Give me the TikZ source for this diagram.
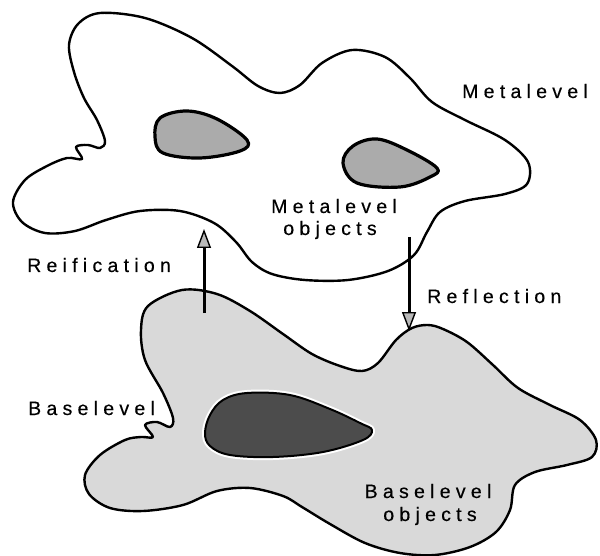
\documentclass[tikz,border=0pt]{standalone}
\usepackage{fontspec}
\setmainfont{Liberation Sans}
\newfontfamily\labfont[LetterSpace=27,FakeBold=0.4]{Liberation Sans}
\usetikzlibrary{arrows.meta}
\begin{document}
\begin{tikzpicture}[x=1pt,y=-1pt, line join=round,
  blob/.style={draw=black, line width=2.4pt},
  metaobj/.style={draw=black, line width=3.2pt, fill=gray!66},
  darkobj/.style={draw=black, line width=2pt, fill=black!70},
  lab/.style={font=\labfont\fontsize{19.5}{23}\selectfont, inner sep=0pt, text=black},
  arr/.style={line width=3pt, -{Triangle[length=19pt,width=14pt,fill=gray!55,line width=1.4pt]}}
]
\useasboundingbox (0,0) rectangle (600,556);
\fill[white] (0,0) rectangle (600,556);

% metalevel blob
\draw[blob, fill=white] plot[smooth cycle, tension=0.55] coordinates {
 (100,13) (145,18) (192,38) (232,66) (258,86) (280,93) (300,85) (322,63) (352,50)
 (385,57) (410,78) (432,102) (465,120) (505,140) (528,162) (527,184) (505,194)
 (465,201) (440,212) (427,232) (414,255) (388,271) (348,280) (305,280) (272,274)
 (252,262) (236,242) (214,223) (180,211) (140,211) (106,220) (75,231) (45,233)
 (22,222) (13,202) (25,180) (47,166) (67,158) (82,159) (76,147) (88,145) (100,148)
 (105,141) (97,120) (84,98) (74,72) (69,45) (78,24)};

% baselevel blob
\draw[blob, fill=gray!30] plot[smooth cycle, tension=0.55] coordinates {
 (182,290) (217,294) (250,311) (283,334) (312,354) (340,366) (362,371) (378,363)
 (396,340) (412,328) (428,325) (443,329) (467,342) (493,365) (518,388) (550,405)
 (580,420) (596,440) (592,457) (567,465) (535,472) (515,485) (510,510) (496,532)
 (470,547) (435,555) (400,553) (365,543) (330,524) (302,507) (283,496) (250,488)
 (217,491) (183,505) (143,511) (110,508) (89,494) (85,475) (100,455) (125,440)
 (141,437) (153,437) (145,425) (157,422) (170,427) (173,418) (163,393) (145,360)
 (141,330) (148,306)};

% metalevel objects
\draw[metaobj] plot[smooth cycle, tension=0.6] coordinates {
 (155,137) (160,118) (187,111) (217,119) (247,140) (240,151) (200,158) (163,153)};
\draw[metaobj] plot[smooth cycle, tension=0.6] coordinates {
 (343,163) (353,146) (377,139) (407,150) (437,168) (430,177) (400,187) (357,183)};

% baselevel object
\draw[white, line width=6pt] plot[smooth cycle, tension=0.6] coordinates {
 (205,433) (210,415) (223,400) (247,393) (290,395) (330,409) (360,423) (372,430)
 (363,440) (323,452) (273,457) (230,455) (210,446)};
\draw[darkobj] plot[smooth cycle, tension=0.6] coordinates {
 (205,433) (210,415) (223,400) (247,393) (290,395) (330,409) (360,423) (372,430)
 (363,440) (323,452) (273,457) (230,455) (210,446)};

% arrows
\coordinate (reifS) at (204,313);
\coordinate (reifE) at (204,229);
\coordinate (reflS) at (409,237);
\coordinate (reflE) at (409,331);
\draw[arr] (reifS) -- (reifE);
\draw[arr] (reflS) -- (reflE);

% labels
\node[lab, anchor=base west] (metalevel) at (462,98) {Metalevel};
\node[lab, anchor=base] (metaobjA) at (334,213) {Metalevel};
\node[lab, anchor=base] (metaobjB) at (330,235) {objects};
\node[lab, anchor=base west] (reification) at (27,272) {Reification};
\node[lab, anchor=base west] (reflection) at (427,303) {Reflection};
\node[lab, anchor=base west] (baselevel) at (28,415) {Baselevel};
\node[lab, anchor=base] (baseobjA) at (428,498) {Baselevel};
\node[lab, anchor=base] (baseobjB) at (430,521) {objects};
\end{tikzpicture}
\end{document}
